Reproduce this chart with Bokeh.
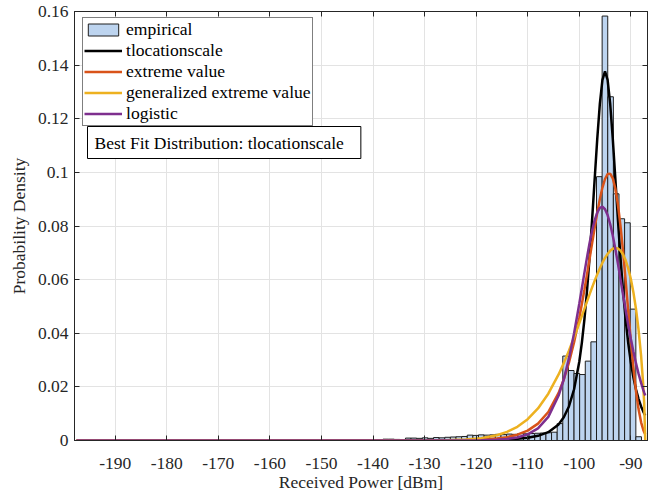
from bokeh.plotting import figure
from bokeh.models import (Range1d, FixedTicker, LinearAxis, Legend, LegendItem,
                          Label, CustomJSTickFormatter)
from bokeh.embed import file_html
from bokeh.resources import INLINE

# ---------------- data ----------------
bin_start = -138.07
bin_width = 1.09
hist_density = [0.0005, 0.0005, 0.0004, 0.0002, 0.0009, 0.0009, 0.0008, 0.0010, 0.0008, 0.0011,
                0.0010, 0.0012, 0.0013, 0.0014, 0.0015, 0.0020, 0.0019, 0.0021, 0.0020, 0.0021,
                0.0023, 0.0022, 0.0024, 0.0023, 0.0026, 0.0025, 0.0026, 0.0027, 0.0028, 0.0029,
                0.0031, 0.0063, 0.0315, 0.0261, 0.0250, 0.0246, 0.0296, 0.0368, 0.0984, 0.1583,
                0.1282, 0.0920, 0.0827, 0.0812, 0.0490, 0.0014]

curve_x = [-197.5, -180, -160, -150, -140, -135, -130, -126, -122, -119, -116, -114, -112, -110,
           -108, -106, -104, -103, -102, -101, -100, -99.5, -99, -98.5, -98, -97.5, -97, -96.5,
           -96, -95.5, -95, -94.5, -94, -93.5, -93, -92.5, -92, -91.5, -91, -90.5, -90, -89.5,
           -89, -88.5, -88, -87.6, -87.4, -87.2]

pdf_tlocationscale = [0.0000006, 0.0000012, 0.0000035, 0.0000068, 0.000015, 0.000024, 0.0000405,
                      0.0000653, 0.000112, 0.000176, 0.000295, 0.000431, 0.000654, 0.001037,
                      0.001737, 0.00311, 0.00601, 0.00864, 0.01271, 0.01912, 0.02927, 0.03633,
                      0.04505, 0.05566, 0.0682, 0.08245, 0.09771, 0.11271, 0.12565, 0.13452,
                      0.13768, 0.13452, 0.12565, 0.11271, 0.09771, 0.08245, 0.0682, 0.05566,
                      0.04505, 0.03633, 0.02927, 0.02362, 0.01912, 0.01555, 0.01271, 0.01086,
                      0.01005, 0.00931]

pdf_extreme_value = [0, 0, 0, 0, 0, 0.0000043, 0.0000166, 0.000049, 0.000145, 0.000326, 0.000735,
                     0.00126, 0.00216, 0.00369, 0.00629, 0.01063, 0.01775, 0.02277, 0.0290,
                     0.03664, 0.04572, 0.05081, 0.0562, 0.06187, 0.06772, 0.07363, 0.07946,
                     0.08499, 0.09005, 0.09433, 0.09753, 0.09937, 0.09954, 0.0978, 0.09398,
                     0.08802, 0.08008, 0.07049, 0.05968, 0.0484, 0.03731, 0.02718, 0.01851,
                     0.01171, 0.00679, 0.0041, 0.0031, 0.0023]

pdf_gen_extreme_value = [0, 0, 0, 0, 0, 0, 0.0000309, 0.000113, 0.00038, 0.000884, 0.00195, 0.0032,
                         0.00511, 0.00793, 0.01195, 0.01745, 0.02463, 0.02886, 0.03351, 0.03848,
                         0.04373, 0.04641, 0.04911, 0.0518, 0.05448, 0.05709, 0.05962, 0.06201,
                         0.06425, 0.06629, 0.06808, 0.06958, 0.07074, 0.0715, 0.0718, 0.0716,
                         0.07081, 0.06937, 0.0672, 0.06421, 0.0603, 0.05533, 0.04913, 0.04139,
                         0.03152, 0.02102, 0.01392, 0.0]

pdf_logistic = [0, 0, 0, 0, 0, 0.00000035, 0.0000021, 0.0000087, 0.000035, 0.0000995, 0.000283,
                0.000567, 0.001136, 0.00227, 0.0045, 0.0088, 0.01678, 0.02281, 0.03052, 0.03997,
                0.05088, 0.05668, 0.06252, 0.06821, 0.07355, 0.07828, 0.0822, 0.08509, 0.08678,
                0.08717, 0.08625, 0.08407, 0.08075, 0.07648, 0.07147, 0.06597, 0.06019, 0.05434,
                0.04861, 0.04311, 0.03794, 0.03317, 0.02884, 0.02494, 0.02148, 0.01901, 0.01787,
                0.01678]

x_ticks = [-190, -180, -170, -160, -150, -140, -130, -120, -110, -100, -90]
x_tick_labels = ["-190", "-180", "-170", "-160", "-150", "-140", "-130", "-120", "-110", "-100", "-90"]
y_ticks = [0, 0.02, 0.04, 0.06, 0.08, 0.1, 0.12, 0.14, 0.16]
y_tick_labels = ["0", "0.02", "0.04", "0.06", "0.08", "0.1", "0.12", "0.14", "0.16"]

series_names = ["empirical", "tlocationscale", "extreme value", "generalized extreme value", "logistic"]
best_fit = "tlocationscale"

# ---------------- style ----------------
FONT = "Liberation Serif"
FS = "17.5px"
AX = "#262626"
colors = ["#000000", "#D95319", "#EDB120", "#7E2F8E"]

p = figure(width=660, height=495, output_backend="svg", toolbar_location=None,
           x_range=Range1d(-197.9, -86.76), y_range=Range1d(0, 0.16),
           min_border_left=74, min_border_right=13, min_border_top=11, min_border_bottom=55)

edges_left = [bin_start + i * bin_width for i in range(len(hist_density))]
edges_right = [e + bin_width for e in edges_left]
hist_r = p.quad(left=edges_left, right=edges_right, bottom=0, top=hist_density,
                fill_color="#BDD4EF", line_color="#1e1e1e", line_width=1)

curves = [pdf_tlocationscale, pdf_extreme_value, pdf_gen_extreme_value, pdf_logistic]
line_rs = []
for ys, c in zip(curves, colors):
    line_rs.append(p.line(curve_x, ys, line_color=c, line_width=2.5))

# axes
p.xaxis.ticker = FixedTicker(ticks=x_ticks)
p.yaxis.ticker = FixedTicker(ticks=y_ticks)
p.xaxis.major_label_overrides = {t: l for t, l in zip(x_ticks, x_tick_labels)}
p.yaxis.major_label_overrides = {t: l for t, l in zip(y_ticks, y_tick_labels)}
for ax in (p.xaxis[0], p.yaxis[0]):
    ax.major_tick_in = 5
    ax.major_tick_out = 0
    ax.minor_tick_line_color = None
    ax.axis_line_color = AX
    ax.major_tick_line_color = AX
    ax.major_label_text_font = FONT
    ax.major_label_text_font_size = FS
    ax.major_label_text_color = AX
    ax.axis_label_text_font = FONT
    ax.axis_label_text_font_size = FS
    ax.axis_label_text_font_style = "normal"
    ax.axis_label_text_color = AX
p.xaxis.axis_label = "Received Power [dBm]"
p.yaxis.axis_label = "Probability Density"
p.xaxis.major_label_standoff = 17
p.xaxis.axis_label_standoff = 0
p.yaxis.major_label_standoff = 6
p.yaxis.axis_label_standoff = 6

empty = CustomJSTickFormatter(code="return ''")
top_ax = LinearAxis(ticker=FixedTicker(ticks=x_ticks), formatter=empty, major_tick_in=5,
                    major_tick_out=0, minor_tick_line_color=None, axis_line_color=AX,
                    major_tick_line_color=AX, major_label_standoff=0)
right_ax = LinearAxis(ticker=FixedTicker(ticks=y_ticks), formatter=empty, major_tick_in=5,
                      major_tick_out=0, minor_tick_line_color=None, axis_line_color=AX,
                      major_tick_line_color=AX, major_label_standoff=0)
p.add_layout(top_ax, "above")
p.add_layout(right_ax, "right")

p.xgrid.grid_line_color = "#E3E3E3"
p.ygrid.grid_line_color = "#E3E3E3"
p.outline_line_color = AX
p.background_fill_color = "white"

items = [LegendItem(label=series_names[0], renderers=[hist_r])]
for name, r in zip(series_names[1:], line_rs):
    items.append(LegendItem(label=name, renderers=[r]))
legend = Legend(items=items, location=(8, 314), margin=0, padding=1, spacing=0,
                glyph_width=38, glyph_height=15, label_height=20, label_standoff=4,
                label_text_font=FONT, label_text_font_size="17.6px", label_text_color="#000000",
                border_line_color="#000000", border_line_width=1,
                background_fill_color="white", background_fill_alpha=1.0)
p.add_layout(legend, "center")

label_kw = dict(x_units="screen", y_units="screen",
                text="Best Fit Distribution: " + best_fit,
                text_font=FONT, text_font_size=FS, text_color="#000000",
                border_line_color="#000000", border_line_width=1,
                background_fill_color="white")
try:
    box = Label(x=13, y=282, padding=dict(left=7, right=17, top=6, bottom=6), **label_kw)
except Exception:
    box = Label(x=12, y=282, padding=6, **label_kw)
p.add_layout(box)

open("out.html", "w").write(file_html(p, INLINE))
